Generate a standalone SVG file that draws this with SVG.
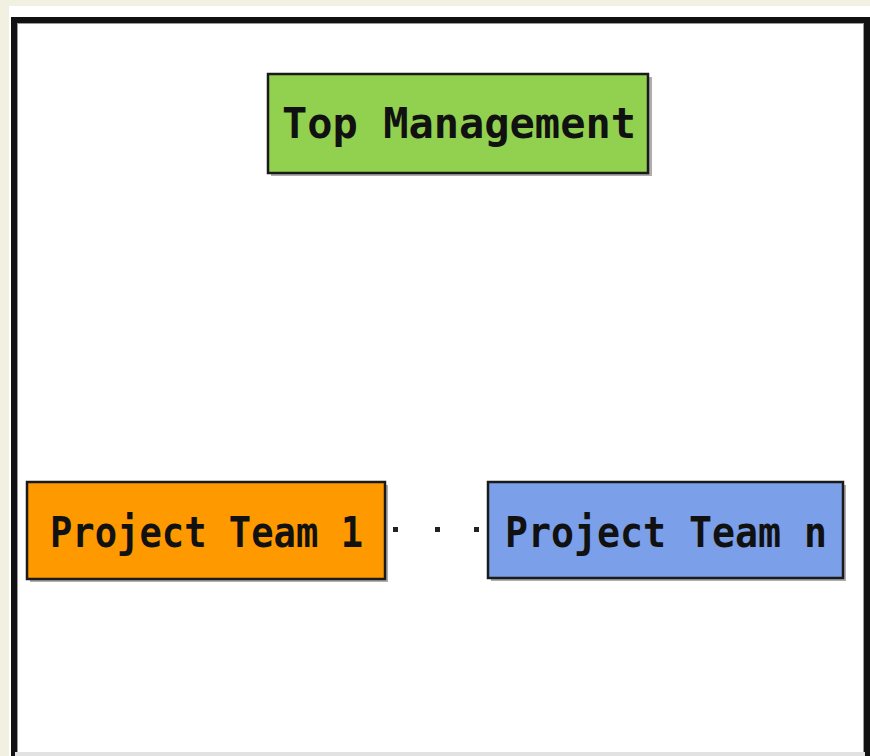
<svg xmlns="http://www.w3.org/2000/svg" width="870" height="756" viewBox="0 0 870 756">
<style>
.box{stroke:#1a1a1a;stroke-width:2.5}
.shadow{fill:#8a8a8a;opacity:0.7}
.lbl{font-family:"DejaVu Sans Mono",monospace;font-weight:bold;font-size:42px;fill:#111}
.dot{fill:#222}
</style>
<rect x="0" y="0" width="870" height="756" fill="#F2F0E1"/>
<rect x="9" y="6" width="861" height="750" fill="#FFFFFF"/>
<rect x="14" y="20" width="853" height="760" fill="none" stroke="#111" stroke-width="6"/>
<rect x="17.5" y="23.5" width="846" height="760" fill="none" stroke="#999" stroke-width="1"/>
<rect x="15" y="752" width="850" height="4" fill="#E2E2E2"/>
<g id="top-management">
<rect class="shadow" x="271" y="77" width="381" height="99"/>
<rect class="box" x="268" y="74" width="380" height="99" fill="#92D14F"/>
<text class="lbl" x="282" y="138" textLength="354" lengthAdjust="spacingAndGlyphs">Top Management</text>
</g>
<g id="project-team-1">
<rect class="shadow" x="30" y="485" width="358" height="97"/>
<rect class="box" x="27" y="482" width="358" height="97" fill="#FF9900"/>
<text class="lbl" x="50" y="547" textLength="313" lengthAdjust="spacingAndGlyphs">Project Team 1</text>
</g>
<g id="project-team-n">
<rect class="shadow" x="491" y="485" width="355" height="96"/>
<rect class="box" x="488" y="482" width="355" height="96" fill="#7B9FE8"/>
<text class="lbl" x="505" y="547" textLength="322" lengthAdjust="spacingAndGlyphs">Project Team n</text>
</g>
<g id="connectors">
<rect class="dot" x="393" y="527" width="5" height="5"/>
<rect class="dot" x="435" y="527" width="5" height="5"/>
<rect class="dot" x="474" y="527" width="5" height="5"/>
</g>
</svg>
